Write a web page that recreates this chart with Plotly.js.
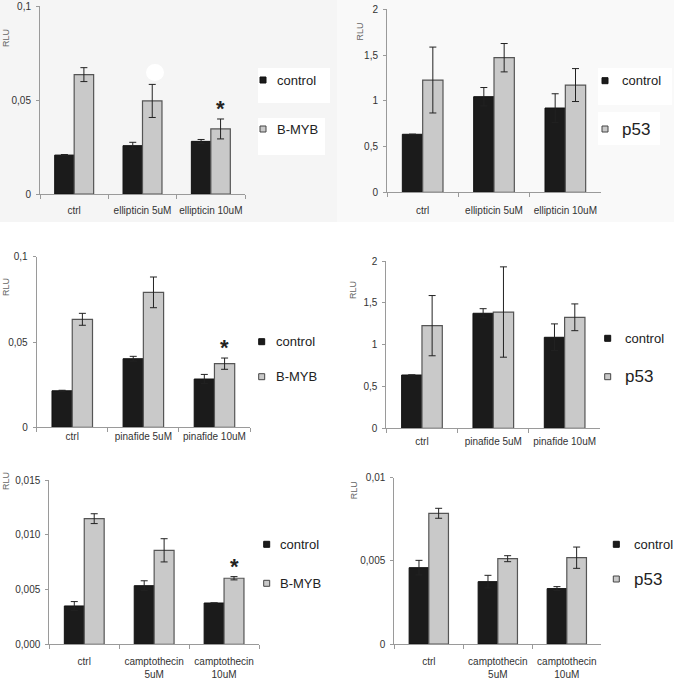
<!DOCTYPE html>
<html>
<head>
<meta charset="utf-8">
<script src="https://cdn.plot.ly/plotly-3.0.1.min.js"></script>
<style>html,body{margin:0;padding:0;background:#fff;}#chart{width:674px;height:683px;}</style>
</head>
<body>
<div id="chart"></div>
<script>
// ---- categories ----
const catsEllip = ["ctrl", "ellipticin 5uM", "ellipticin 10uM"];
const catsPina = ["ctrl", "pinafide 5uM", "pinafide 10uM"];
const catsCampt = ["ctrl", "camptothecin<br>5uM", "camptothecin<br>10uM"];

// ---- panel 1: ellipticin, B-MYB ----
const ellipBmybControl = [0.0207, 0.0257, 0.0280];
const ellipBmybControlErr = [0.0003, 0.0018, 0.0010];
const ellipBmyb = [0.0635, 0.0495, 0.0346];
const ellipBmybErr = [0.0037, 0.0088, 0.0053];

// ---- panel 2: ellipticin, p53 ----
const ellipP53Control = [0.634, 1.045, 0.921];
const ellipP53ControlErr = [0, 0.10, 0.156];
const ellipP53 = [1.227, 1.471, 1.172];
const ellipP53Err = [0.36, 0.155, 0.18];

// ---- panel 3: pinafide, B-MYB ----
const pinaBmybControl = [0.0214, 0.0402, 0.0283];
const pinaBmybControlErr = [0.0003, 0.0014, 0.0027];
const pinaBmyb = [0.0633, 0.0791, 0.0373];
const pinaBmybErr = [0.0035, 0.0090, 0.0033];

// ---- panel 4: pinafide, p53 ----
const pinaP53Control = [0.637, 1.375, 1.088];
const pinaP53ControlErr = [0, 0.055, 0.16];
const pinaP53 = [1.227, 1.39, 1.327];
const pinaP53Err = [0.36, 0.54, 0.16];

// ---- panel 5: camptothecin, B-MYB ----
const camptBmybControl = [0.0035, 0.00535, 0.00377];
const camptBmybControlErr = [0.0004, 0.00045, 0];
const camptBmyb = [0.01147, 0.00858, 0.00603];
const camptBmybErr = [0.00045, 0.00106, 0.00015];

// ---- panel 6: camptothecin, p53 ----
const camptP53Control = [0.00459, 0.00375, 0.00333];
const camptP53ControlErr = [0.00044, 0.00038, 0.00012];
const camptP53 = [0.00786, 0.00513, 0.00519];
const camptP53Err = [0.0003, 0.00018, 0.00064];

// ---- y tick values / labels ----
const tickValsBmyb = [0, 0.05, 0.1];
const tickTextBmyb = ["0", "0,05", "0,1"];
const tickValsP53 = [0, 0.5, 1, 1.5, 2];
const tickTextP53 = ["0", "0,5", "1", "1,5", "2"];
const tickValsCamptBmyb = [0, 0.005, 0.01, 0.015];
const tickTextCamptBmyb = ["0,000", "0,005", "0,010", "0,015"];
const tickValsCamptP53 = [0, 0.005, 0.01];
const tickTextCamptP53 = ["0", "0,005", "0,01"];

const seriesNames = ["control", "B-MYB", "p53"];

// ---------------- layout helpers ----------------
const W = 674, H = 683;
const px = v => v / W;
const py = v => 1 - v / H;

const BLACK = "#1b1b1b";
const GREY = "#c9c9c9";
const AXIS = "#9a9a9a";
const TXT = "#333333";
const FONT = "Liberation Sans, Arial, sans-serif";

const panels = [
  {cats: catsEllip, c: ellipBmybControl, ce: ellipBmybControlErr, t: ellipBmyb, te: ellipBmybErr, tname: seriesNames[1],
   x0: 40, x1: 245, y0: 194, y1: 6, max: 0.1, tv: tickValsBmyb, tt: tickTextBmyb, xso: 7,
   rlu: [6, 38], leg: [263, 275, 80, 129], tfont: 13, star: true},
  {cats: catsEllip, c: ellipP53Control, ce: ellipP53ControlErr, t: ellipP53, te: ellipP53Err, tname: seriesNames[2],
   x0: 387, x1: 601, y0: 192.3, y1: 9.3, max: 2, tv: tickValsP53, tt: tickTextP53, xso: 9,
   rlu: [359.5, 32], leg: [605, 620, 80.7, 129], tfont: 17, star: false},
  {cats: catsPina, c: pinaBmybControl, ce: pinaBmybControlErr, t: pinaBmyb, te: pinaBmybErr, tname: seriesNames[1],
   x0: 36.7, x1: 250, y0: 427.3, y1: 256.7, max: 0.1, tv: tickValsBmyb, tt: tickTextBmyb, xso: 0,
   rlu: [6, 287], leg: [261.7, 274, 341.7, 376.7], tfont: 13, star: true},
  {cats: catsPina, c: pinaP53Control, ce: pinaP53ControlErr, t: pinaP53, te: pinaP53Err, tname: seriesNames[2],
   x0: 386.3, x1: 600.3, y0: 428.3, y1: 261, max: 2, tv: tickValsP53, tt: tickTextP53, xso: 4,
   rlu: [353, 290], leg: [607.7, 623, 338.3, 376.7], tfont: 17, star: false},
  {cats: catsCampt, c: camptBmybControl, ce: camptBmybControlErr, t: camptBmyb, te: camptBmybErr, tname: seriesNames[1],
   x0: 49.3, x1: 259, y0: 644.3, y1: 480, max: 0.015, tv: tickValsCamptBmyb, tt: tickTextCamptBmyb, xso: 8,
   rlu: [6, 481], leg: [266.7, 277.7, 544.3, 583.3], tfont: 13, star: true},
  {cats: catsCampt, c: camptP53Control, ce: camptP53ControlErr, t: camptP53, te: camptP53Err, tname: seriesNames[2],
   x0: 394.3, x1: 601.3, y0: 644, y1: 477.7, max: 0.01, tv: tickValsCamptP53, tt: tickTextCamptP53, xso: 8,
   rlu: [354.3, 490], leg: [616.3, 632, 544.3, 579], tfont: 17, star: false}
];

const data = [];
const layout = {
  width: W, height: H,
  margin: {l: 0, r: 0, t: 0, b: 0, pad: 0},
  paper_bgcolor: "#ffffff",
  plot_bgcolor: "rgba(0,0,0,0)",
  showlegend: false,
  barmode: "group",
  bargap: 0.43,
  bargroupgap: 0,
  font: {family: FONT, size: 10, color: TXT},
  annotations: [],
  shapes: [
    // light grey scanned background of top row
    {type: "rect", xref: "paper", yref: "paper", x0: 0, x1: px(337), y0: py(222), y1: 1,
     fillcolor: "#f5f5f5", line: {width: 0}, layer: "below"},
    {type: "rect", xref: "paper", yref: "paper", x0: px(337), x1: 1, y0: py(222), y1: 1,
     fillcolor: "#f9f9f9", line: {width: 0}, layer: "below"},
    {type: "circle", xref: "paper", yref: "paper", x0: px(146), x1: px(164), y0: py(81), y1: py(64),
     fillcolor: "#ffffff", line: {width: 0}, layer: "below"},
    {type: "rect", xref: "paper", yref: "paper", x0: px(258), x1: px(330), y0: py(103), y1: py(68),
     fillcolor: "#ffffff", line: {width: 0}, layer: "below"},
    {type: "rect", xref: "paper", yref: "paper", x0: px(258), x1: px(325), y0: py(155), y1: py(118),
     fillcolor: "#ffffff", line: {width: 0}, layer: "below"},
    {type: "rect", xref: "paper", yref: "paper", x0: px(598), x1: px(672), y0: py(105), y1: py(68),
     fillcolor: "#ffffff", line: {width: 0}, layer: "below"},
    {type: "rect", xref: "paper", yref: "paper", x0: px(598), x1: px(660), y0: py(145), y1: py(112),
     fillcolor: "#ffffff", line: {width: 0}, layer: "below"}
  ]
};

panels.forEach((p, i) => {
  const n = i + 1;
  const xa = n === 1 ? "x" : "x" + n;
  const ya = n === 1 ? "y" : "y" + n;
  data.push({
    type: "bar", x: p.cats, y: p.c, name: seriesNames[0], xaxis: xa, yaxis: ya,
    marker: {color: BLACK, line: {color: "#111", width: 1}},
    error_y: {type: "data", array: p.ce, visible: true, color: "#222", thickness: 1, width: 3.5}
  });
  data.push({
    type: "bar", x: p.cats, y: p.t, name: p.tname, xaxis: xa, yaxis: ya,
    marker: {color: GREY, line: {color: "#555", width: 1.2}},
    error_y: {type: "data", array: p.te, visible: true, color: "#222", thickness: 1, width: 3.5}
  });
  const xkey = n === 1 ? "xaxis" : "xaxis" + n;
  const ykey = n === 1 ? "yaxis" : "yaxis" + n;
  layout[xkey] = {
    domain: [px(p.x0), px(p.x1)], anchor: ya, type: "category",
    showgrid: false, zeroline: false, showline: true, linecolor: AXIS, linewidth: 1,
    ticks: "outside", tickson: "boundaries", ticklen: 4, tickcolor: AXIS, tickwidth: 1,
    tickangle: 0,
    tickfont: {family: FONT, size: 10, color: TXT}, ticklabelstandoff: p.xso,
    fixedrange: true
  };
  layout[ykey] = {
    domain: [py(p.y0), py(p.y1)], anchor: xa, range: [0, p.max],
    showgrid: false, zeroline: false, showline: true, linecolor: AXIS, linewidth: 1,
    ticks: "outside", ticklen: 3, tickcolor: AXIS, tickwidth: 1,
    tickvals: p.tv, ticktext: p.tt,
    tickfont: {family: FONT, size: 10, color: TXT}, ticklabelstandoff: 3,
    fixedrange: true
  };
  // RLU label
  layout.annotations.push({
    xref: "paper", yref: "paper", x: px(p.rlu[0]), y: py(p.rlu[1]), text: "RLU",
    textangle: -90, showarrow: false, xanchor: "center", yanchor: "middle",
    font: {family: FONT, size: 9, color: "#666"}
  });
  // legend markers + text
  const [mx, tx, ly1, ly2] = p.leg;
  layout.shapes.push({type: "rect", xref: "paper", yref: "paper",
    x0: px(mx - 3), x1: px(mx + 3), y0: py(ly1 + 3), y1: py(ly1 - 3),
    fillcolor: BLACK, line: {color: "#111", width: 1}});
  layout.shapes.push({type: "rect", xref: "paper", yref: "paper",
    x0: px(mx - 3), x1: px(mx + 3), y0: py(ly2 + 3), y1: py(ly2 - 3),
    fillcolor: GREY, line: {color: "#444", width: 1}});
  layout.annotations.push({xref: "paper", yref: "paper", x: px(tx), y: py(ly1), text: seriesNames[0],
    showarrow: false, xanchor: "left", yanchor: "middle", font: {family: FONT, size: 13, color: "#222"}});
  layout.annotations.push({xref: "paper", yref: "paper", x: px(tx), y: py(ly2), text: p.tname,
    showarrow: false, xanchor: "left", yanchor: "middle", font: {family: FONT, size: p.tfont, color: "#222"}});
  // significance star
  if (p.star) {
    layout.annotations.push({xref: xa, yref: ya, x: p.cats[2], y: p.t[2] + p.te[2], text: "<b>*</b>",
      showarrow: false, xanchor: "center", yanchor: "bottom", xshift: 10, yshift: -4,
      font: {family: FONT, size: 22, color: "#222"}});
  }
});

Plotly.newPlot("chart", data, layout, {staticPlot: true, displayModeBar: false});
</script>
</body>
</html>
